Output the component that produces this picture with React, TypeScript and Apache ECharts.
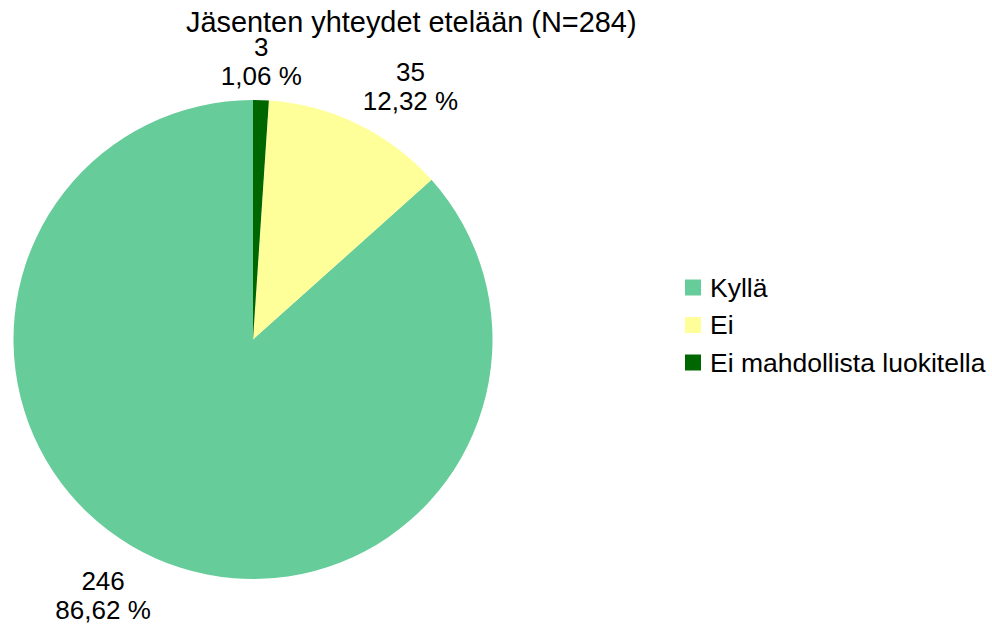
import React, { useEffect, useRef } from "react";
import * as echarts from "echarts";

const TITLE = "Jäsenten yhteydet etelään (N=284)";
const categories = ["Kyllä", "Ei", "Ei mahdollista luokitella"];
const values = [246, 35, 3];
const colors = ["#66cc99", "#ffff99", "#006600"];

const FONT = "'Liberation Sans', Arial, sans-serif";

export default function App() {
  const ref = useRef<HTMLDivElement>(null);
  useEffect(() => {
    document.body.style.margin = "0";
    if (!ref.current) return;
    const chart = echarts.init(ref.current, null, { renderer: "svg" });
    const total = values.reduce((a, b) => a + b, 0);
    const center = [253, 339.5];
    const radius = 239.5;
    const startAngle = 90;
    const labelGap = 11;

    const midAngles: number[] = [];
    let cum = 0;
    values.forEach((v) => {
      midAngles.push(startAngle + ((cum + v / 2) / total) * 360);
      cum += v;
    });

    chart.setOption({
      animation: false,
      title: {
        text: TITLE,
        left: 186,
        top: 7,
        padding: 0,
        textStyle: { fontFamily: FONT, fontSize: 28.9, fontWeight: "normal", color: "#000" },
      },
      legend: {
        orient: "vertical",
        left: 685,
        top: 274,
        itemWidth: 16,
        itemHeight: 16,
        itemGap: 10.5,
        icon: "rect",
        padding: 0,
        data: categories,
        textStyle: { fontFamily: FONT, fontSize: 26.5, color: "#000", padding: [0, 0, 0, 4] },
      },
      series: [
        {
          type: "pie",
          center,
          radius,
          startAngle,
          clockwise: false,
          avoidLabelOverlap: false,
          itemStyle: { borderWidth: 0 },
          emphasis: { disabled: true },
          labelLine: { show: false },
          label: {
            show: true,
            position: "outside",
            fontFamily: FONT,
            color: "#000",
            formatter: (p: any) => {
              const pct = ((p.value / total) * 100).toFixed(2).replace(".", ",") + " %";
              return `{v|${p.value}}\n{v|${pct}}`;
            },
            rich: {
              v: { fontFamily: FONT, fontSize: 26, lineHeight: 29, align: "center", color: "#000" },
            },
          },
          labelLayout: (params: any) => {
            const a = (midAngles[params.dataIndex] * Math.PI) / 180;
            const dx = Math.cos(a);
            const dy = -Math.sin(a);
            const ax = center[0] + (radius + labelGap) * dx;
            const ay = center[1] + (radius + labelGap) * dy;
            const w = params.labelRect.width;
            const h = params.labelRect.height;
            const xoff = Math.abs(dx) < 0.2 ? 0 : Math.sign(dx) * (w / 2);
            const yoff = Math.sign(dy) * (h / 2);
            return { x: ax + xoff, y: ay + yoff, align: "center", verticalAlign: "middle" };
          },
          data: categories.map((name, i) => ({
            name,
            value: values[i],
            itemStyle: { color: colors[i] },
          })),
        },
      ],
    });
    return () => chart.dispose();
  }, []);
  return <div ref={ref} style={{ width: 992, height: 628 }} />;
}
